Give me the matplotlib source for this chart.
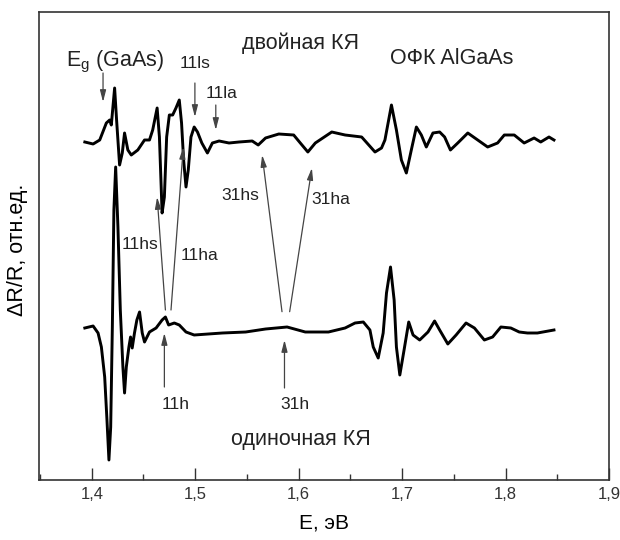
import matplotlib
matplotlib.use("Agg")
import matplotlib.pyplot as plt
from matplotlib.ticker import MultipleLocator, FuncFormatter

plt.rcParams['font.family'] = ['Liberation Sans', 'DejaVu Sans']
plt.rcParams['mathtext.fontset'] = 'custom'
plt.rcParams['mathtext.rm'] = 'Liberation Sans'

# ---- data: double QW (upper curve) ----
E_double = [1.3933, 1.4013, 1.4077, 1.4141, 1.4173, 1.4189, 1.4221, 1.4240, 1.4269, 1.4295,
            1.4317, 1.4349, 1.4382, 1.4445, 1.4510, 1.4558, 1.4589, 1.4632, 1.4654, 1.4680,
            1.4702, 1.4724, 1.4750, 1.4782, 1.4814, 1.4846, 1.4868, 1.4888, 1.4911, 1.4933,
            1.4959, 1.4990, 1.5022, 1.5064, 1.5118, 1.5166, 1.5231, 1.5327, 1.5423, 1.5551,
            1.5609, 1.5680, 1.5808, 1.5952, 1.6016, 1.6089, 1.6161, 1.6320, 1.6449, 1.6609,
            1.6738, 1.6801, 1.6834, 1.6897, 1.6945, 1.6993, 1.7041, 1.7089, 1.7138, 1.7186,
            1.7234, 1.7298, 1.7363, 1.7411, 1.7467, 1.7538, 1.7635, 1.7731, 1.7827, 1.7923,
            1.7988, 1.8084, 1.8180, 1.8276, 1.8340, 1.8420, 1.8468]
dR_double = [-0.01, -0.03, 0.01, 0.18, 0.21, 0.16, 0.53, 0.21, -0.24, -0.12,
             0.08, -0.09, -0.14, -0.09, 0.01, 0.01, 0.11, 0.33, 0.04, -0.72,
             -0.56, 0.04, 0.26, 0.26, 0.33, 0.41, 0.18, -0.19, -0.46, -0.29,
             0.04, 0.14, 0.09, -0.02, -0.12, -0.02, 0.00, -0.02, -0.01, 0.00,
             -0.04, 0.03, 0.07, 0.06, -0.02, -0.11, -0.02, 0.09, 0.06, 0.04,
             -0.11, -0.07, 0.01, 0.36, 0.11, -0.19, -0.32, -0.09, 0.14, 0.06,
             -0.06, 0.08, 0.09, 0.04, -0.09, -0.02, 0.08, 0.01, -0.06, -0.02,
             0.06, 0.06, -0.02, 0.03, -0.01, 0.04, 0.01]

# ---- data: single QW (lower curve) ----
E_single = [1.3933, 1.4013, 1.4061, 1.4093, 1.4125, 1.4147, 1.4166, 1.4183, 1.4199, 1.4214,
            1.4231, 1.4253, 1.4276, 1.4301, 1.4317, 1.4334, 1.4359, 1.4375, 1.4391, 1.4413,
            1.4436, 1.4462, 1.4488, 1.4510, 1.4558, 1.4622, 1.4680, 1.4712, 1.4743, 1.4798,
            1.4846, 1.4911, 1.4990, 1.5263, 1.5488, 1.5680, 1.5888, 1.6064, 1.6288, 1.6449,
            1.6545, 1.6625, 1.6689, 1.6721, 1.6769, 1.6817, 1.6849, 1.6888, 1.6923, 1.6945,
            1.6978, 1.7019, 1.7064, 1.7106, 1.7170, 1.7250, 1.7314, 1.7363, 1.7442, 1.7522,
            1.7618, 1.7699, 1.7795, 1.7875, 1.7955, 1.8051, 1.8132, 1.8212, 1.8308, 1.8468]
dR_single = [0.02, 0.04, -0.03, -0.17, -0.47, -0.90, -1.30, -0.97, 0.03, 1.20,
             1.63, 1.03, 0.20, -0.37, -0.63, -0.37, -0.17, -0.07, -0.18, -0.03,
             0.10, 0.18, -0.03, -0.12, -0.02, 0.02, 0.10, 0.13, 0.05, 0.07,
             0.05, -0.02, -0.05, -0.03, -0.02, 0.01, 0.03, -0.02, -0.02, 0.02,
             0.07, 0.08, 0.00, -0.17, -0.28, -0.03, 0.37, 0.63, 0.30, -0.17,
             -0.45, -0.20, 0.08, -0.05, -0.10, -0.02, 0.09, 0.00, -0.14, -0.05,
             0.07, 0.02, -0.10, -0.07, 0.03, 0.02, -0.02, -0.03, -0.03, 0.00]

offset_double = 3.39
offset_single = 1.50

x_ticks = [1.4, 1.5, 1.6, 1.7, 1.8, 1.9]

# annotations: label, text position, arrow tail, arrow tip (data units)
arrow_labels = ['11ls', '11la', '11hs', '11ha', '31hs', '31ha', '11h', '31h']
arrow_text = [(1.5000, 4.165), (1.5255, 3.865), (1.4462, 2.355), (1.5038, 2.245),
              (1.5438, 2.845), (1.6313, 2.800), (1.4812, 0.750), (1.5962, 0.750)]
arrow_tail = [(1.4997, 3.97), (1.5199, 3.75), (1.4712, 1.70), (1.4766, 1.70),
              (1.5839, 1.683), (1.5913, 1.683), (1.4702, 0.93), (1.5863, 0.92)]
arrow_tip = [(1.4997, 3.63), (1.5199, 3.50), (1.4632, 2.83), (1.4885, 3.33),
             (1.5647, 3.25), (1.6128, 3.12), (1.4702, 1.47), (1.5863, 1.40)]

fig = plt.figure(figsize=(6.2, 5.4), dpi=100)
ax = fig.add_axes([39/620, 1-480/540, (609-39)/620, (480-12)/540])

ax.plot(E_double, [v + offset_double for v in dR_double], color='black', lw=2.1,
        solid_joinstyle='round')
ax.plot(E_single, [v + offset_single for v in dR_single], color='black', lw=2.1,
        solid_joinstyle='round')

ax.set_xlim(1.349, 1.9)
ax.set_ylim(0, 4.68)
ax.set_xticks(x_ticks)
ax.xaxis.set_minor_locator(MultipleLocator(0.05))
ax.xaxis.set_major_formatter(FuncFormatter(lambda v, p: f"{v:.1f}".replace('.', ',')))
ax.tick_params(axis='x', which='major', direction='in', length=8.5, width=1.0,
               labelsize=12, pad=5, colors='#333333')
ax.tick_params(axis='x', which='minor', direction='in', length=4.5, width=1.0,
               colors='#333333')
ax.set_yticks([])
for s in ax.spines.values():
    s.set_color('#333333')
    s.set_linewidth(1.2)

ax.set_xlabel('E, эВ', fontsize=15, labelpad=8)
ax.set_ylabel('ΔR/R, отн.ед.', fontsize=15.5)
ax.yaxis.set_label_coords(-0.019, 0.491)

txt_col = '#222222'
big = 15.5
small = 12.5
ax.text(1.375, 4.14, r'E$_\mathregular{g}$ (GaAs)', fontsize=big, ha='left',
        va='baseline', color=txt_col)
ax.annotate('', xy=(1.4109, 3.78), xytext=(1.4109, 4.07),
            arrowprops=dict(arrowstyle='-|>,head_length=0.7,head_width=0.18',
                            color='#444444', lw=0.9, shrinkA=0, shrinkB=0))
ax.text(1.6014, 4.365, 'двойная КЯ', fontsize=big, ha='center', va='center', color=txt_col)
ax.text(1.7476, 4.215, 'ОФК AlGaAs', fontsize=big, ha='center', va='center', color=txt_col)
ax.text(1.6024, 0.405, 'одиночная КЯ', fontsize=big, ha='center', va='center', color=txt_col)

for lab, tp, tail, tip in zip(arrow_labels, arrow_text, arrow_tail, arrow_tip):
    ax.text(tp[0], tp[1], lab, fontsize=small, ha='center', va='center', color=txt_col)
    ax.annotate('', xy=tip, xytext=tail,
                arrowprops=dict(arrowstyle='-|>,head_length=0.7,head_width=0.18',
                                color='#444444', lw=0.9, shrinkA=0, shrinkB=0))

fig.savefig('out.png', dpi=100)
